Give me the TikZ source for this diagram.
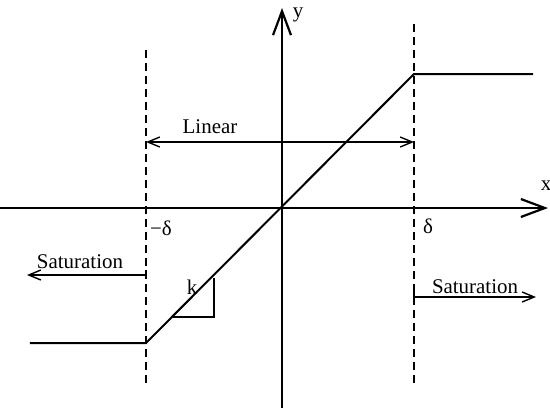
\documentclass[tikz,border=0pt]{standalone}
\usepackage{fontspec}
\setmainfont{Liberation Serif}
\usetikzlibrary{arrows.meta}

\begin{document}
\begin{tikzpicture}[x=1bp,y=1bp,
  every node/.style={font=\fontsize{21}{24}\selectfont,inner sep=0pt},
  axis/.style={line width=2.4bp,-{Straight Barb[length=24bp,width=18bp,line width=2.2bp]}},
  limit/.style={line width=1.5bp,dash pattern=on 8bp off 5bp},
  barb/.tip={Straight Barb[length=12bp,width=10bp,line width=1.4bp]},
  region/.style={line width=1.5bp,-barb},
  curve/.style={line width=2bp}]
  \useasboundingbox (-282,-204) rectangle (268,208);
  % axes
  \coordinate (O) at (0,0);
  \draw[axis] (-282,0) -- (266,0);
  \node (xlab) at (264,22) {x};
  \draw[axis] (0,-200) -- (0,200);
  \node (ylab) at (16,193) {y};
  % limits of the linear zone
  \coordinate (lft) at (-136,0);
  \coordinate (rgt) at (132,0);
  \draw[limit] (-136,158) -- (-136,-180);
  \draw[limit] (132,184) -- (132,-180);
  \node (mdelta) at (-121,-20) {−δ};
  \node (pdelta) at (146,-18) {δ};
  % saturation characteristic
  \coordinate (lo) at (-136,-135);
  \coordinate (hi) at (132,134);
  \draw[curve] (-252,-135) -- (lo) -- (hi) -- (251,134);
  % slope marker
  \draw[line width=1.5bp] (-109,-109) -- (-68,-109) -- (-68,-70);
  \node (slope) at (-90,-79) {k};
  % regions
  \draw[line width=1.5bp,barb-barb] (-136,66) -- (132,66);
  \node (linear) at (-72,81) {Linear};
  \draw[region] (-136,-62) -- (-136,-67) -- (-255,-67);
  \node (satl) at (-202,-54) {Saturation};
  \draw[region] (132,-84) -- (132,-89) -- (254,-89);
  \node (satr) at (193,-79) {Saturation};
\end{tikzpicture}
\end{document}
